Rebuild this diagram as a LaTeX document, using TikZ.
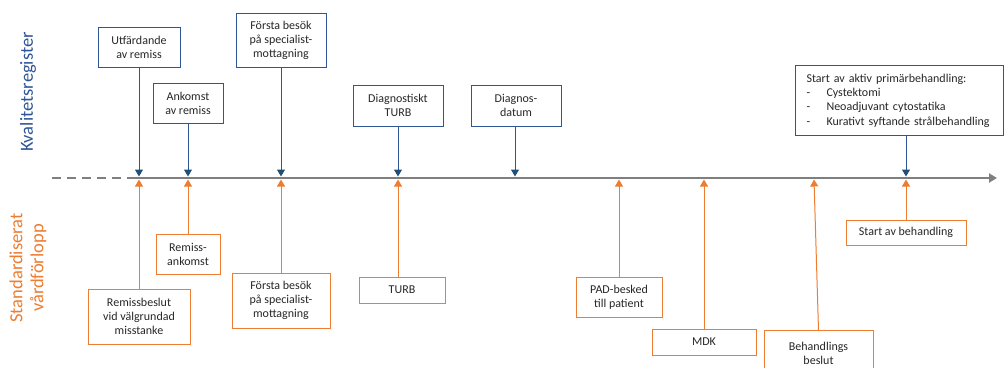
\documentclass[tikz,border=0pt]{standalone}
\usepackage{fontspec}
\setmainfont{Carlito}
\usetikzlibrary{arrows.meta}
\definecolor{kblue}{HTML}{2F5597}
\definecolor{kdblue}{HTML}{1F4E79}
\definecolor{korange}{HTML}{ED7D31}
\definecolor{kgray}{HTML}{7F7F7F}
\begin{document}
\begin{tikzpicture}[x=1pt,y=-1pt,
  every node/.style={font=\fontsize{12}{14}\selectfont, text=black!85},
  bbox/.style={draw=kblue, line width=1pt, align=center, inner sep=0pt},
  obox/.style={draw=korange, line width=1pt, align=center, inner sep=0pt},
  barr/.style={draw=kblue, line width=1pt, -{Triangle[width=8pt,length=7pt,color=kdblue]}},
  oarr/.style={draw=korange, line width=1pt, -{Triangle[width=8pt,length=7pt,color=korange]}},
  sidelabel/.style={rotate=90, font=\fontsize{18.5}{21}\selectfont, align=center}]
\useasboundingbox (0,0) rectangle (1004,367);
\clip (0,0) rectangle (1004,367);

% axis
\coordinate (a0) at (52,178);
\coordinate (a1) at (130,178);
\coordinate (a2) at (997,178);
\coordinate (bt) at (0,176.5);
\coordinate (ot) at (0,179.5);
\draw[kgray, line width=2pt, dash pattern=on 9pt off 6pt] (a0) -- (a1);
\draw[kgray, line width=2pt, -{Triangle[width=9pt,length=8pt]}] (a1) -- (a2);

% side labels
\node[sidelabel, text=kblue] (kr) at (28,92) {Kvalitetsregister};
\node[sidelabel, text=korange] (sv) at (28,268) {Standardiserat\\vårdförlopp};

% blue boxes
\node[bbox, minimum width=82pt, minimum height=40pt] (b1) at (139,47) {Utfärdande\\av remiss};
\node[bbox, minimum width=70pt, minimum height=40pt] (b2) at (188,103) {Ankomst\\av remiss};
\node[bbox, minimum width=90pt, minimum height=54pt] (b3) at (281,40) {Första besök\\på specialist-\\mottagning};
\node[bbox, minimum width=90pt, minimum height=41pt] (b4) at (398,105.5) {Diagnostiskt\\TURB};
\node[bbox, minimum width=90pt, minimum height=41pt] (b5) at (516,105.5) {Diagnos-\\datum};
\node[bbox, anchor=north west, text width=186pt, inner xsep=11pt, inner ysep=0pt, minimum height=70pt, align=left,
      font=\fontsize{12}{14.4}\selectfont] (b6) at (795,65)
  {Start av aktiv primärbehandling:\\
   \makebox[20pt][l]{-}Cystektomi\\
   \makebox[20pt][l]{-}Neoadjuvant cytostatika\\
   \makebox[20pt][l]{-}Kurativt syftande strålbehandling};

% orange boxes
\node[obox, minimum width=102pt, minimum height=55pt] (o1) at (139,316.5) {Remissbeslut\\vid välgrundad\\misstanke};
\node[obox, minimum width=64pt, minimum height=40pt] (o2) at (188,254) {Remiss-\\ankomst};
\node[obox, minimum width=98pt, minimum height=55pt] (o3) at (281,300.5) {Första besök\\på specialist-\\mottagning};
\node[obox, minimum width=86pt, minimum height=26pt] (o4) at (402,290) {TURB};
\node[obox, minimum width=86pt, minimum height=40pt] (o5) at (619,297) {PAD-besked\\till patient};
\node[obox, minimum width=104pt, minimum height=26pt] (o6) at (704,342) {MDK};
\node[obox, minimum width=109pt, minimum height=46pt, anchor=north] (o7) at (818.5,330) {Behandlings\\beslut};
\node[obox, minimum width=120pt, minimum height=25pt] (o8) at (906,232.5) {Start av behandling};

% blue arrows
\draw[barr] (b1.south) -- (b1.south |- bt);
\draw[barr] (b2.south) -- (b2.south |- bt);
\draw[barr] (b3.south) -- (b3.south |- bt);
\draw[barr] (b4.south) -- (b4.south |- bt);
\draw[barr] ([xshift=-1pt]b5.south) -- ([xshift=-1pt]b5.south |- bt);
\draw[barr] (o8.north |- b6.south) -- (o8.north |- bt);

% orange arrows
\draw[oarr] (o1.north) -- (o1.north |- ot);
\draw[oarr] (o2.north) -- (o2.north |- ot);
\draw[oarr] (o3.north) -- (o3.north |- ot);
\draw[oarr] (o4.north -| b4.south) -- (b4.south |- ot);
\draw[oarr] (o5.north) -- (o5.north |- ot);
\draw[oarr] (o6.north) -- (o6.north |- ot);
\coordinate (o7t) at (814,179.5);
\draw[oarr] (o7.north) -- (o7t);
\draw[oarr] (o8.north) -- (o8.north |- ot);
\end{tikzpicture}
\end{document}
